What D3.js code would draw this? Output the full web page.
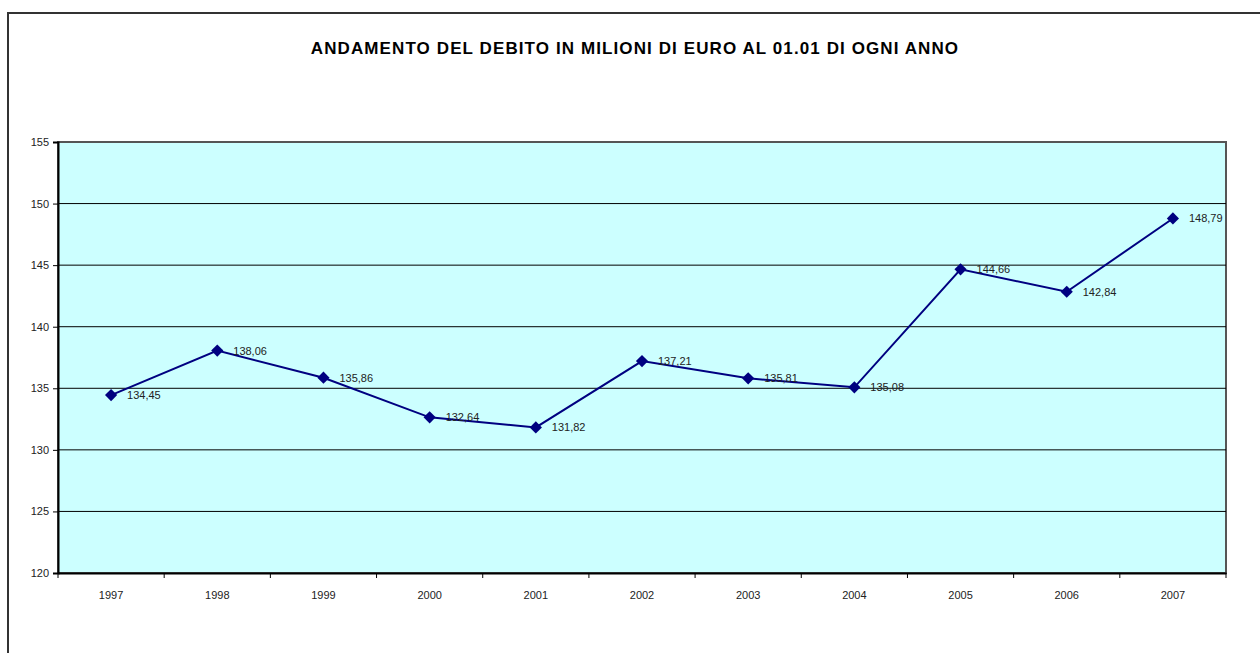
<!DOCTYPE html>
<html>
<head>
<meta charset="utf-8">
<script src="https://cdn.jsdelivr.net/npm/d3@7"></script>
<style>
  body { margin: 0; background: #fff; }
  svg text { font-family: "Liberation Sans", Arial, sans-serif; }
</style>
</head>
<body>
<div id="my_dataviz"></div>
<script>
const years = ["1997", "1998", "1999", "2000", "2001", "2002", "2003", "2004", "2005", "2006", "2007"];
const debito = [134.45, 138.06, 135.86, 132.64, 131.82, 137.21, 135.81, 135.08, 144.66, 142.84, 148.79];
const yTicks = [120, 125, 130, 135, 140, 145, 150, 155];
const titleText = "ANDAMENTO DEL DEBITO IN MILIONI DI EURO AL 01.01 DI OGNI ANNO";

const width = 1260, height = 653;
const margin = {top: 142, right: 34, bottom: 80, left: 58};
const chartWidth = width - margin.left - margin.right,
      chartHeight = 573 - margin.top;

const root = d3.select("#my_dataviz")
  .append("svg")
  .attr("width", width)
  .attr("height", height);

// chart area border (cut by the page on right/bottom)
root.append("rect")
  .attr("x", 8).attr("y", 13)
  .attr("width", 1260).attr("height", 700)
  .attr("fill", "#fff")
  .attr("stroke", "#333")
  .attr("stroke-width", 2);

root.append("text")
  .attr("x", 635).attr("y", 54)
  .attr("text-anchor", "middle")
  .style("font-size", "17px")
  .style("font-weight", "bold")
  .style("letter-spacing", "1.1px")
  .text(titleText);

const svg = root.append("g")
  .attr("transform", `translate(${margin.left}, ${margin.top})`);

const x = d3.scaleBand()
  .domain(years)
  .range([0, chartWidth]);

const y = d3.scaleLinear()
  .domain([120, 155])
  .range([chartHeight, 0]);

svg.append("rect")
  .attr("width", chartWidth).attr("height", chartHeight)
  .attr("fill", "#ccffff")
  .attr("stroke", "#555")
  .attr("stroke-width", 2);

// gridlines
svg.selectAll(".grid")
  .data(yTicks.slice(1, -1))
  .join("line")
  .attr("x1", 0).attr("x2", chartWidth)
  .attr("y1", d => y(d)).attr("y2", d => y(d))
  .attr("stroke", "#000")
  .attr("stroke-width", 1);

// y axis
const yAxis = svg.append("g")
  .call(d3.axisLeft(y).tickValues(yTicks).tickSize(5).tickPadding(4));
yAxis.select(".domain").attr("stroke-width", 2);
yAxis.selectAll("text").style("font-size", "11px").attr("fill", "#222");

// x axis: ticks between categories
const xAxis = svg.append("g")
  .attr("transform", `translate(0, ${chartHeight})`)
  .call(d3.axisBottom(x).tickSize(0).tickPadding(18));
xAxis.select(".domain").attr("stroke-width", 2);
xAxis.selectAll("text").style("font-size", "11px").attr("fill", "#222");
xAxis.selectAll(".sep")
  .data(d3.range(years.length + 1))
  .join("line")
  .attr("x1", i => i * x.bandwidth()).attr("x2", i => i * x.bandwidth())
  .attr("y1", 0).attr("y2", 5)
  .attr("stroke", "#000");

const cx = (d, i) => x(years[i]) + x.bandwidth() / 2;

svg.append("path")
  .datum(debito)
  .attr("fill", "none")
  .attr("stroke", "#000080")
  .attr("stroke-width", 2)
  .attr("d", d3.line().x(cx).y(d => y(d)));

svg.selectAll(".pt")
  .data(debito)
  .join("path")
  .attr("d", d3.symbol(d3.symbolDiamond2, 95))
  .attr("transform", (d, i) => `translate(${cx(d, i)}, ${y(d)})`)
  .attr("fill", "#000080");

svg.selectAll(".lbl")
  .data(debito)
  .join("text")
  .attr("x", (d, i) => cx(d, i) + 16)
  .attr("y", d => y(d) + 4)
  .style("font-size", "11px")
  .attr("fill", "#222")
  .text(d => d.toFixed(2).replace(".", ","));
</script>
</body>
</html>
